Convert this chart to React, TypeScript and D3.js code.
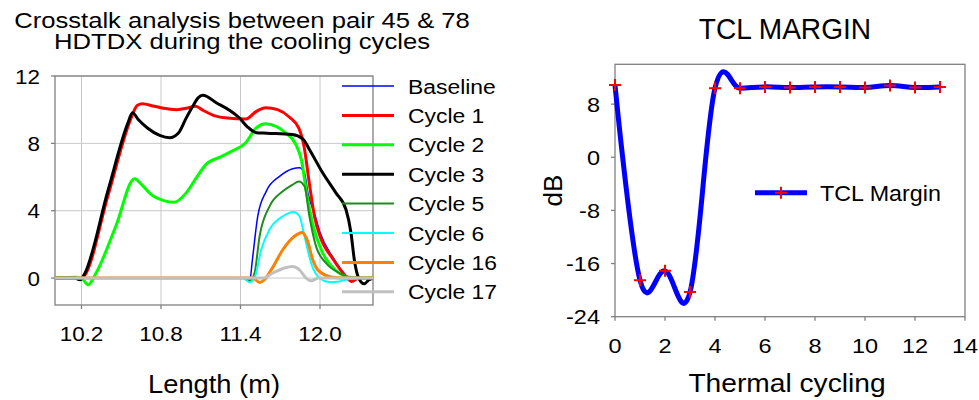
import * as d3 from "d3";

const FONT = "'Liberation Sans', Arial, Helvetica, sans-serif";

// ---- left chart: crosstalk vs length ----
const lengthTicks = [10.2, 10.8, 11.4, 12.0];
const crosstalkTicks = [0, 4, 8, 12];

type Pt = [number, number];

const baseline: Pt[] = [
  [10.0, 0], [11.42, 0], [11.47, -0.15], [11.49, 1.1], [11.53, 3.67], [11.594, 5.15],
  [11.697, 6.05], [11.794, 6.49], [11.845, 6.55], [11.882, 6.25], [11.91, 5.0],
  [11.96, 3.8], [12.0, 2.7], [12.1, 1.2], [12.19, 0.2], [12.24, -0.2], [12.29, 0], [12.4, 0],
];
const cycle1: Pt[] = [
  [10.0, 0], [10.15, 0], [10.19, -0.08], [10.22, 0.1], [10.4, 4.9], [10.57, 9.4], [10.62, 10.25],
  [10.66, 10.35], [10.75, 10.2], [10.85, 10.05], [10.92, 10.0], [11.0, 10.1], [11.06, 10.2],
  [11.12, 9.95], [11.2, 9.65], [11.3, 9.5], [11.44, 9.45], [11.52, 9.9], [11.59, 10.12],
  [11.68, 10.0], [11.77, 9.55], [11.84, 8.9], [11.88, 7.8], [11.92, 5.6], [11.96, 3.6],
  [12.0, 2.5], [12.1, 1.1], [12.19, 0.15], [12.24, -0.2], [12.29, 0], [12.4, 0],
];
const cycle2: Pt[] = [
  [10.0, 0], [10.16, 0.05], [10.2, 0], [10.25, -0.4], [10.31, 0.3], [10.46, 3.1], [10.6, 5.9],
  [10.66, 5.5], [10.72, 5.0], [10.82, 4.6], [10.9, 4.5], [10.99, 5.06], [11.07, 6.0],
  [11.14, 6.75], [11.25, 7.2], [11.34, 7.55], [11.44, 8.04], [11.52, 8.93], [11.59, 9.17],
  [11.67, 9.0], [11.74, 8.63], [11.82, 7.9], [11.86, 7.0], [11.9, 5.0], [11.945, 3.2],
  [12.02, 1.5], [12.12, 0.45], [12.22, 0.05], [12.3, 0], [12.4, 0],
];
const cycle3: Pt[] = [
  [10.0, 0], [10.15, 0], [10.19, -0.1], [10.22, 0.2], [10.4, 5.2], [10.55, 9.2], [10.585, 9.82],
  [10.63, 9.4], [10.7, 8.9], [10.79, 8.47], [10.865, 8.33], [10.93, 8.6], [10.99, 9.5],
  [11.04, 10.2], [11.08, 10.7], [11.116, 10.85], [11.22, 10.4], [11.32, 9.95], [11.39, 9.52],
  [11.45, 9.0], [11.52, 8.63], [11.6, 8.6], [11.79, 8.53], [11.87, 8.27], [11.92, 7.64],
  [12.02, 6.25], [12.12, 5.06], [12.196, 4.07], [12.234, 2.68], [12.259, 1.09], [12.292, 0],
  [12.334, -0.34], [12.37, -0.1], [12.4, 0],
];
const cycle5: Pt[] = [
  [10.0, 0], [11.42, 0], [11.468, -0.2], [11.506, 0.3], [11.544, 2.48], [11.619, 4.26],
  [11.719, 5.15], [11.794, 5.55], [11.84, 5.73], [11.883, 5.45], [11.92, 3.67], [11.97, 1.88],
  [12.046, 0.89], [12.146, 0.3], [12.22, 0.05], [12.4, 0],
];
const cycle6: Pt[] = [
  [10.0, 0], [11.42, 0], [11.468, -0.25], [11.506, 0], [11.556, 1.68], [11.619, 2.88],
  [11.719, 3.67], [11.802, 3.93], [11.845, 3.67], [11.883, 2.48], [11.933, 0.89], [11.996, 0],
  [12.071, -0.24], [12.146, -0.2], [12.22, -0.05], [12.3, 0], [12.4, 0],
];
const cycle16: Pt[] = [
  [10.0, 0], [11.494, 0], [11.544, -0.26], [11.58, -0.1], [11.632, 0.49], [11.719, 1.68],
  [11.807, 2.48], [11.865, 2.71], [11.907, 2.18], [11.945, 1.09], [11.996, 0.39], [12.096, 0.05],
  [12.2, 0], [12.4, 0],
];
const cycle17: Pt[] = [
  [10.0, 0], [11.569, 0], [11.644, 0.3], [11.732, 0.6], [11.794, 0.69], [11.845, 0.49],
  [11.895, 0], [11.933, -0.16], [11.99, 0], [12.4, 0],
];

const seriesNames = ["Baseline", "Cycle 1", "Cycle 2", "Cycle 3", "Cycle 5", "Cycle 6", "Cycle 16", "Cycle 17"];
const seriesData = [baseline, cycle1, cycle2, cycle3, cycle5, cycle6, cycle16, cycle17];
const seriesColors = ["#0000ff", "#ff0000", "#00ff00", "#000000", "#1e8c1e", "#00ffff", "#ff8000", "#c0c0c0"];
const seriesWidths = [1.5, 3, 3, 3, 2, 2, 3, 3];

// ---- right chart: TCL margin ----
const cycles = [0, 1, 2, 3, 4, 5, 6, 7, 8, 9, 10, 11, 12, 13];
const tclMargin = [10.9, -18.5, -17.1, -20.3, 10.4, 10.4, 10.6, 10.5, 10.6, 10.6, 10.5, 10.8, 10.5, 10.6];
const cycleTicks = [0, 2, 4, 6, 8, 10, 12, 14];
const dbTicks = [-24, -16, -8, 0, 8];

function Txt({ x, y, size, sx = 1, anchor = "middle", rotate = 0, children }: any) {
  return (
    <text
      transform={`translate(${x},${y}) rotate(${rotate}) scale(${sx},1)`}
      fontSize={size}
      textAnchor={anchor}
      fontFamily={FONT}
      fill="#000"
    >
      {children}
    </text>
  );
}

const plus = (x: number, y: number, r = 6) => `M${x - r},${y}H${x + r}M${x},${y - r}V${y + r}`;

export default function App() {
  // left
  const x1 = d3.scaleLinear().domain([10.0, 12.4]).range([55, 373]);
  const y1 = d3.scaleLinear().domain([-1.6, 12]).range([305, 76]);
  const line1 = d3
    .line<Pt>()
    .x((d) => x1(d[0]))
    .y((d) => y1(d[1]))
    .curve(d3.curveMonotoneX);

  // right (excel-like smoothing, overshoots between points)
  const x2 = d3.scaleLinear().domain([0, 14]).range([615, 965]);
  const y2 = d3.scaleLinear().domain([-24, 14]).range([316.7, 64.3]);
  const line2 = d3
    .line<number>()
    .x((_, i) => x2(cycles[i]))
    .y((d) => y2(d))
    .curve(d3.curveCardinal.tension(-0.1));

  const [l1, r1] = x1.range();
  const [b1, t1] = y1.range();
  const [l2, r2] = x2.range();
  const [b2, t2] = y2.range();

  return (
    <svg width={979} height={400} style={{ position: "absolute", left: 0, top: 0, background: "#fff" }}>
      <defs>
        <clipPath id="clipL">
          <rect x={l1} y={t1} width={r1 - l1} height={b1 - t1} />
        </clipPath>
      </defs>

      {/* left titles */}
      <Txt x={242} y={28} size={22} sx={1.165}>Crosstalk analysis between pair 45 &amp; 78</Txt>
      <Txt x={242} y={49.3} size={22} sx={1.165}>HDTDX during the cooling cycles</Txt>

      {/* left grid */}
      {lengthTicks.map((t) => (
        <line key={"gx" + t} x1={x1(t)} x2={x1(t)} y1={t1} y2={b1} stroke="#c8c8c8" strokeWidth={1} />
      ))}
      {crosstalkTicks.map((t) => (
        <line key={"gy" + t} x1={l1} x2={r1} y1={y1(t)} y2={y1(t)} stroke="#c8c8c8" strokeWidth={1} />
      ))}
      <rect x={l1} y={t1} width={r1 - l1} height={b1 - t1} fill="none" stroke="#808080" strokeWidth={1.3} />
      {lengthTicks.map((t) => (
        <g key={"tx" + t}>
          <line x1={x1(t)} x2={x1(t)} y1={b1} y2={b1 + 4} stroke="#808080" strokeWidth={1.3} />
          <Txt x={x1(t)} y={341} size={21} sx={1.07}>{t.toFixed(1)}</Txt>
        </g>
      ))}
      {crosstalkTicks.map((t) => (
        <g key={"ty" + t}>
          <line x1={l1 - 4} x2={l1} y1={y1(t)} y2={y1(t)} stroke="#808080" strokeWidth={1.3} />
          <Txt x={40} y={y1(t) + 7.5} size={21} sx={1.07} anchor="end">{t}</Txt>
        </g>
      ))}

      <g clipPath="url(#clipL)">
        {seriesData.map((s, i) => (
          <path key={seriesNames[i]} d={line1(s) || ""} fill="none" stroke={seriesColors[i]} strokeWidth={seriesWidths[i]} />
        ))}
      </g>

      {/* left legend */}
      {seriesNames.map((n, i) => {
        const ly = 86 + i * 29.4;
        return (
          <g key={"lg" + n}>
            <line x1={342} x2={394} y1={ly} y2={ly} stroke={seriesColors[i]} strokeWidth={seriesWidths[i]} />
            <Txt x={408} y={ly + 7.5} size={21} sx={1.09} anchor="start">{n}</Txt>
          </g>
        );
      })}

      <Txt x={(l1 + r1) / 2} y={393} size={26} sx={1.05}>Length (m)</Txt>

      {/* right chart */}
      <Txt x={785} y={39.3} size={29} sx={0.97}>TCL MARGIN</Txt>
      <rect x={l2} y={t2} width={r2 - l2} height={b2 - t2} fill="none" stroke="#808080" strokeWidth={1.3} />
      {cycleTicks.map((t) => (
        <g key={"cx" + t}>
          <line x1={x2(t)} x2={x2(t)} y1={b2} y2={b2 + 4} stroke="#808080" strokeWidth={1.3} />
          <Txt x={x2(t)} y={353} size={21} sx={1.12}>{t}</Txt>
        </g>
      ))}
      {dbTicks.map((t) => (
        <g key={"cy" + t}>
          <line x1={l2 - 4} x2={l2} y1={y2(t)} y2={y2(t)} stroke="#808080" strokeWidth={1.3} />
          <Txt x={600} y={y2(t) + 7.5} size={21} sx={1.12} anchor="end">{t}</Txt>
        </g>
      ))}
      <path d={line2(tclMargin) || ""} fill="none" stroke="#0000ff" strokeWidth={5} />
      {tclMargin.map((v, i) => (
        <path key={"m" + i} d={plus(x2(cycles[i]), y2(v))} stroke="#ff0000" strokeWidth={2} />
      ))}

      {/* right legend */}
      <line x1={755} x2={807} y1={192.7} y2={192.7} stroke="#0000ff" strokeWidth={5} />
      <path d={plus(781, 192.7)} stroke="#ff0000" strokeWidth={2} />
      <Txt x={820} y={200.5} size={22} sx={1.06} anchor="start">TCL Margin</Txt>

      <Txt x={562} y={(t2 + b2) / 2} size={26} rotate={-90}>dB</Txt>
      <Txt x={787} y={391.7} size={25.6} sx={1.1}>Thermal cycling</Txt>
    </svg>
  );
}
